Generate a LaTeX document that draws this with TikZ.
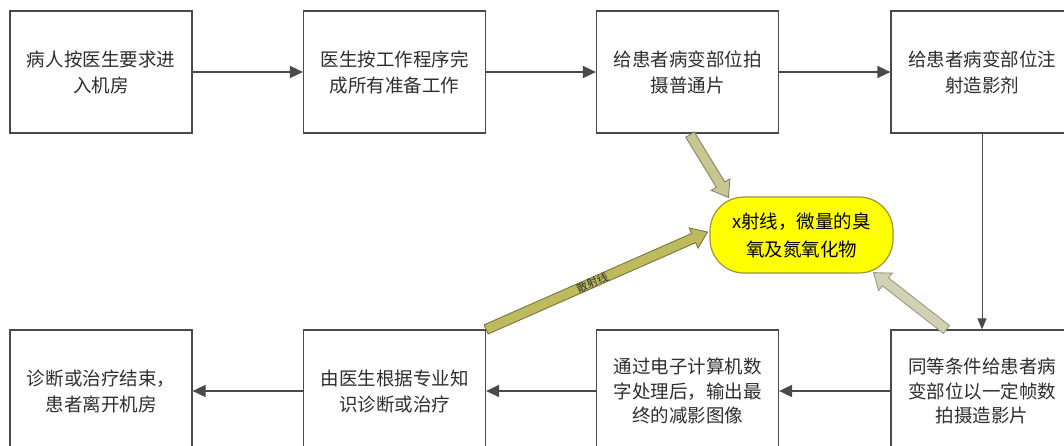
\documentclass[tikz,border=0pt]{standalone}
\usepackage{fontspec}
\newfontfamily\cjk{Noto Sans CJK SC}
\usetikzlibrary{arrows.meta,calc}
\definecolor{boxgray}{HTML}{4A4A4A}
\definecolor{txtgray}{HTML}{2E2E2E}
\definecolor{emfill}{HTML}{FFFF00}
\definecolor{emdraw}{HTML}{9A9440}
\definecolor{khakiA}{HTML}{C9C78F}
\definecolor{khakiAd}{HTML}{85856A}
\definecolor{khakiB}{HTML}{BDBB5E}
\definecolor{khakiBd}{HTML}{76763E}
\definecolor{khakiC}{HTML}{D2D1B4}
\definecolor{khakiCd}{HTML}{9A9A88}
\tikzset{
  procbox/.style={draw=boxgray, line width=1.2pt, minimum width=182pt, minimum height=122pt,
    inner sep=0pt, align=center, text=txtgray, font=\cjk\fontsize{18.5}{26}\selectfont},
  emitter/.style={draw=emdraw, line width=1.2pt, fill=emfill, rounded corners=34pt,
    minimum width=183pt, minimum height=76pt, inner sep=0pt, align=center, text=black,
    font=\cjk\fontsize{18.5}{28}\selectfont},
  flow/.style={draw=boxgray, line width=1.6pt, -{Triangle[length=13pt,width=12pt]}},
  flowthin/.style={draw=boxgray, line width=1pt, -{Triangle[length=11pt,width=9pt]}},
  blockarr/.style={line width=0.9pt, line join=miter},
  arrlabel/.style={font=\cjk\fontsize{11}{13}\selectfont, text=txtgray, inner sep=1pt}
}
% block arrow from #2 to #3, shaft half-width 5pt, head half-width 11pt, head length 15pt
\newcommand\blockarrow[3][]{%
  \coordinate (#2-hb) at ($(#3)!15pt!(#2)$);
  \filldraw[blockarr,#1]
    ($(#2)!5pt!90:(#3)$) -- ($(#2-hb)!5pt!90:(#3)$) -- ($(#2-hb)!11pt!90:(#3)$) --
    (#3) --
    ($(#2-hb)!11pt!-90:(#3)$) -- ($(#2-hb)!5pt!-90:(#3)$) -- ($(#2)!5pt!-90:(#3)$) -- cycle;}
\begin{document}
\begin{tikzpicture}[x=1pt,y=-1pt]
\useasboundingbox (0,0) rectangle (1064,445);
\clip (0,0) rectangle (1064,445);
\fill[white] (0,0) rectangle (1064,445);
% top row
\node[procbox] (b1) at (101,72) {病人按医生要求进\\入机房};
\node[procbox] (b2) at (394.5,72) {医生按工作程序完\\成所有准备工作};
\node[procbox] (b3) at (687.5,72) {给患者病变部位拍\\摄普通片};
\node[procbox] (b4) at (982,72) {给患者病变部位注\\射造影剂};
% bottom row
\node[procbox] (b8) at (101,391) {诊断或治疗结束，\\患者离开机房};
\node[procbox] (b7) at (394.5,391) {由医生根据专业知\\识诊断或治疗};
\node[procbox, font=\cjk\fontsize{18.5}{24.5}\selectfont] (b6) at (687.5,391) {通过电子计算机数\\字处理后，输出最\\终的减影图像};
\node[procbox, font=\cjk\fontsize{18.5}{24.5}\selectfont] (b5) at (982,391) {同等条件给患者病\\变部位以一定帧数\\拍摄造影片};
% flow arrows
\draw[flow] (b1) -- (b2);
\draw[flow] (b2) -- (b3);
\draw[flow] (b3) -- (b4);
\draw[flowthin] (b4) -- (b5);
\draw[flow] (b5) -- (b6);
\draw[flow] (b6) -- (b7);
\draw[flow] (b7) -- (b8);
% emission node
\node[emitter] (em) at (801.5,235) {x射线，微量的臭\\氧及氮氧化物};
% block arrows to the emission node
\coordinate (a1s) at ($(b3.south)+(2.5,1)$);
\coordinate (a1e) at ($(em.north west)+(19,1)$);
\coordinate (a2s) at ($(b7.north east)+(0,0)$);
\coordinate (a2e) at ($(em.west)+(-2,-3)$);
\coordinate (a3s) at ($(b5.north west)+(56,0)$);
\coordinate (a3e) at ($(em.south east)+(-20,-1)$);
\blockarrow[fill=khakiA,draw=khakiAd]{a1s}{a1e}
\blockarrow[fill=khakiB,draw=khakiBd]{a2s}{a2e}
\blockarrow[fill=khakiC,draw=khakiCd]{a3s}{a3e}
\path (a2s) -- (a2e) node[arrlabel, sloped, pos=0.48] (lab) {散射线};
\end{tikzpicture}
\end{document}
